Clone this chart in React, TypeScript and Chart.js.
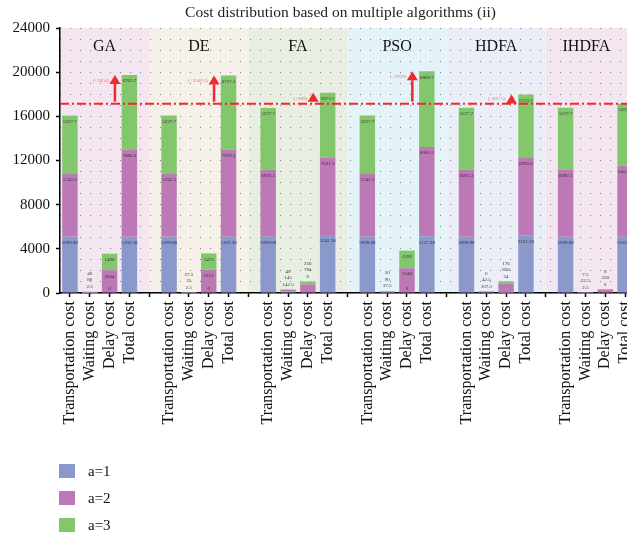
import React, { useEffect, useRef } from 'react';
import { Chart, registerables } from 'chart.js';

Chart.register(...registerables);

const SERIF = '"Liberation Serif", "DejaVu Serif", serif';
const VIEW_W = 627;
const VIEW_H = 537;

const chartTitle = 'Cost distribution based on multiple algorithms (ii)';
const algorithms = ['GA', 'DE', 'FA', 'PSO', 'HDFA', 'IHDFA'];
const costTypes = ['Transportation cost', 'Waiting cost', 'Delay cost', 'Total cost'];
const levelNames = ['a=1', 'a=2', 'a=3'];
const levelColors = ['#8a98cb', '#bc79b5', '#82c76b'];
const groupShades = ['#f4e6f1', '#f5f0e8', '#e9eee3', '#e4f3f7', '#eceef7', '#f4e6f0'];

// per algorithm: GA, DE, FA, PSO, HDFA, IHDFA
const transportA1 = [5099.88, 5099.88, 5099.88, 5099.88, 5099.88, 5099.88];
const transportA2 = [5742.3, 5742.3, 6092.3, 5742.3, 6092.3, 6092.3];
const transportA3 = [5227.7, 5227.7, 5577.7, 5227.7, 5577.7, 5577.7];

const waitingA1 = [2.5, 2.5, 142.5, 37.5, 107.5, 2.5];
const waitingA2 = [80, 25, 145, 90, 42.5, 32.5];
const waitingA3 = [40, 27.5, 40, 50, 0, 7.5];

const delayA1 = [0, 0, 0, 0, 24, 0];
const delayA2 = [2064, 2112, 784, 2248, 856, 328];
const delayA3 = [1496, 1472, 256, 1592, 176, 8];

const yTickStep = 4000;
const yMax = 24000;

const levels = [
  { transport: transportA1, waiting: waitingA1, delay: delayA1 },
  { transport: transportA2, waiting: waitingA2, delay: delayA2 },
  { transport: transportA3, waiting: waitingA3, delay: delayA3 },
];

// slot layout: four cost bars per algorithm, an empty slot between algorithms
const slotLabels: string[] = [];
algorithms.forEach((_, g) => {
  costTypes.forEach((c) => slotLabels.push(c));
  if (g < algorithms.length - 1) slotLabels.push('');
});
const SLOTS_PER_GROUP = costTypes.length + 1;

const levelSeries = levels.map((lv) => {
  const out: (number | null)[] = [];
  algorithms.forEach((_, g) => {
    const t = lv.transport[g];
    const w = lv.waiting[g];
    const d = lv.delay[g];
    out.push(t, w, d, t + w + d);
    if (g < algorithms.length - 1) out.push(null);
  });
  return out;
});

const groupTotals = algorithms.map((_, g) =>
  levels.reduce((s, lv) => s + lv.transport[g] + lv.waiting[g] + lv.delay[g], 0)
);
const referenceTotal = groupTotals[groupTotals.length - 1];

const fmt = (v: number) => String(parseFloat(v.toFixed(2)));

const groupBands = {
  id: 'groupBands',
  beforeDraw(chart: any) {
    const { ctx, chartArea, scales } = chart;
    const xs = scales.x;
    ctx.save();
    ctx.beginPath();
    ctx.rect(chartArea.left, chartArea.top, chartArea.right - chartArea.left, chartArea.bottom - chartArea.top);
    ctx.clip();
    algorithms.forEach((name, g) => {
      const start = g * SLOTS_PER_GROUP - 1;
      const end = start + SLOTS_PER_GROUP;
      const x0 = Math.max(xs.getPixelForValue(start), chartArea.left);
      const x1 = Math.min(xs.getPixelForValue(end), chartArea.right, VIEW_W);
      ctx.fillStyle = groupShades[g];
      ctx.fillRect(x0, chartArea.top, x1 - x0, chartArea.bottom - chartArea.top);
      ctx.fillStyle = '#111';
      ctx.font = `16px ${SERIF}`;
      ctx.textAlign = 'center';
      ctx.textBaseline = 'middle';
      ctx.fillText(name, (x0 + x1) / 2, chartArea.top + 19);
    });
    ctx.restore();

    // chart title, centred over the visible plot
    ctx.save();
    ctx.fillStyle = '#222';
    ctx.font = `15.5px ${SERIF}`;
    ctx.textAlign = 'center';
    ctx.textBaseline = 'middle';
    ctx.fillText(chartTitle, (chartArea.left + VIEW_W) / 2 - 3, 13);
    ctx.restore();
  },
};

const valueLabels = {
  id: 'valueLabels',
  afterDatasetsDraw(chart: any) {
    const { ctx } = chart;
    const metas = chart.data.datasets.map((_: any, d: number) => chart.getDatasetMeta(d));
    ctx.save();
    ctx.font = `5px ${SERIF}`;
    ctx.fillStyle = '#333';
    ctx.textAlign = 'center';
    ctx.textBaseline = 'middle';
    slotLabels.forEach((_, i) => {
      const vals = levelSeries.map((s) => s[i]);
      if (vals[0] == null) return;
      const bottom = metas[0].data[i];
      const top = metas[metas.length - 1].data[i];
      const barPx = bottom.base - top.y;
      if (barPx < 20) {
        vals.forEach((v, d) => ctx.fillText(fmt(v as number), bottom.x, top.y - 5 - d * 6.5));
      } else {
        vals.forEach((v, d) => {
          const el = metas[d].data[i];
          ctx.fillText(fmt(v as number), el.x, Math.min(el.y + 6, el.base - 4.5));
        });
      }
    });
    ctx.restore();
  },
};

const referenceMarks = {
  id: 'referenceMarks',
  afterDatasetsDraw(chart: any) {
    const { ctx, chartArea, scales } = chart;
    const xs = scales.x;
    const ys = scales.y;
    const yLine = ys.getPixelForValue(referenceTotal);
    const slotW = xs.getPixelForValue(1) - xs.getPixelForValue(0);
    ctx.save();
    ctx.strokeStyle = '#ec2a2f';
    ctx.lineWidth = 2;
    ctx.setLineDash([9, 3, 2, 3]);
    ctx.beginPath();
    ctx.moveTo(chartArea.left, yLine);
    ctx.lineTo(chartArea.right, yLine);
    ctx.stroke();
    ctx.setLineDash([]);

    groupTotals.forEach((total, g) => {
      const diff = total - referenceTotal;
      if (diff <= 0.001) return;
      const idx = g * SLOTS_PER_GROUP + 3;
      const x = xs.getPixelForValue(idx) - 0.73 * slotW;
      const yTop = ys.getPixelForValue(total);
      const dist = yLine - yTop;
      const headH = Math.min(9, dist);
      const headW = dist < 10 ? headH * 0.6 : 5.5;
      ctx.fillStyle = '#ec2a2f';
      ctx.strokeStyle = '#ec2a2f';
      if (dist > headH + 1) {
        ctx.lineWidth = 2.5;
        ctx.beginPath();
        ctx.moveTo(x, yLine - 2);
        ctx.lineTo(x, yTop + headH);
        ctx.stroke();
      }
      ctx.beginPath();
      ctx.moveTo(x, yTop);
      ctx.lineTo(x - headW, yTop + headH);
      ctx.lineTo(x + headW, yTop + headH);
      ctx.closePath();
      ctx.fill();

      ctx.fillStyle = '#f07272';
      ctx.font = `5px ${SERIF}`;
      ctx.textAlign = 'right';
      ctx.textBaseline = 'middle';
      ctx.fillText(`(+${fmt(diff)})`, x - 6, Math.min(yTop + 5.5, yLine - 5));
    });
    ctx.restore();
  },
};

export default function App() {
  const canvasRef = useRef<HTMLCanvasElement | null>(null);

  useEffect(() => {
    if (!canvasRef.current) return;
    const chart = new Chart(canvasRef.current, {
      type: 'bar',
      data: {
        labels: slotLabels,
        datasets: levelSeries.map((data, l) => ({
          label: levelNames[l],
          data,
          backgroundColor: levelColors[l],
          borderWidth: 0,
          barPercentage: 1,
          categoryPercentage: 0.78,
        })),
      },
      options: {
        animation: false,
        responsive: false,
        maintainAspectRatio: false,
        layout: { padding: { top: 28, left: 0, right: 0, bottom: 0 } },
        plugins: {
          legend: { display: false },
          tooltip: { enabled: false },
          title: { display: false },
        },
        scales: {
          x: {
            stacked: true,
            grid: {
              display: true,
              drawOnChartArea: false,
              offset: false,
              tickLength: 4,
              tickWidth: 1.5,
              tickColor: '#000',
            },
            border: { display: true, color: '#000', width: 1.5 },
            ticks: {
              autoSkip: false,
              maxRotation: 90,
              minRotation: 90,
              padding: 4,
              color: '#111',
              font: { family: SERIF, size: 16 },
            },
            afterFit: (s: any) => {
              s.height = 244;
              s.paddingLeft = 0;
              s.paddingRight = 0;
            },
          },
          y: {
            stacked: true,
            min: 0,
            max: yMax,
            grid: { display: true, drawOnChartArea: false, tickLength: 4, tickColor: '#000', tickWidth: 1.5 },
            border: { display: true, color: '#000', width: 1.5 },
            ticks: {
              stepSize: yTickStep,
              padding: 6,
              color: '#111',
              font: { family: SERIF, size: 15 },
              callback: (v: any) => String(v),
            },
            afterFit: (s: any) => {
              s.width = 60;
              s.paddingTop = 0;
              s.paddingBottom = 0;
            },
          },
          dots: {
            type: 'linear',
            position: 'right',
            min: 0,
            max: yMax,
            ticks: { display: false, stepSize: 1000 },
            grid: { drawTicks: false, color: 'rgba(60,60,60,0.6)', lineWidth: 1 },
            border: { display: false, dash: [1, 9] },
            afterFit: (s: any) => {
              s.width = 0;
              s.paddingTop = 0;
              s.paddingBottom = 0;
            },
          },
        },
      },
      plugins: [groupBands, referenceMarks, valueLabels],
    } as any);
    return () => chart.destroy();
  }, []);

  return (
    <div
      style={{
        position: 'absolute',
        left: 0,
        top: 0,
        width: VIEW_W,
        height: VIEW_H,
        overflow: 'hidden',
        background: '#fff',
      }}
    >
      <canvas ref={canvasRef} width={635} height={VIEW_H} style={{ display: 'block' }} />
      <div style={{ position: 'absolute', left: 59, top: 464, fontFamily: SERIF, fontSize: 15, color: '#111' }}>
        {levelNames.map((n, i) => (
          <div key={n} style={{ display: 'flex', alignItems: 'center', height: 14, marginBottom: 13 }}>
            <span style={{ display: 'inline-block', width: 16, height: 14, background: levelColors[i] }} />
            <span style={{ marginLeft: 13, lineHeight: '14px' }}>{n}</span>
          </div>
        ))}
      </div>
    </div>
  );
}
